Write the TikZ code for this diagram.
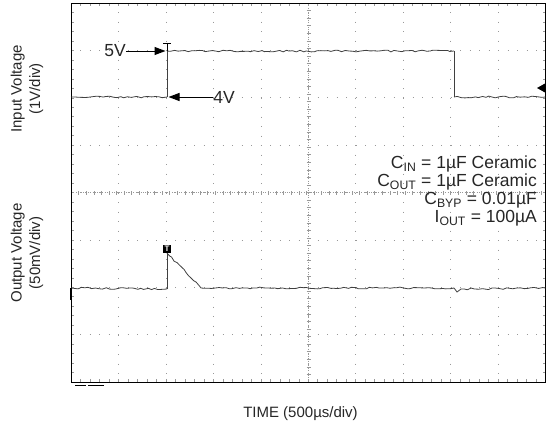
\documentclass[tikz,border=0pt]{standalone}
\usepackage{fontspec}
\setmainfont{Liberation Sans}
\usetikzlibrary{positioning, arrows.meta, decorations.pathmorphing}

\begin{document}
\begin{tikzpicture}[x=1pt, y=-1pt, node distance=4pt,
    font=\fontsize{15}{18.5}\selectfont,
    grid/.style={black!40, line width=0.6pt, dash pattern=on 1pt off 8.5pt, dash phase=0.5pt},
    tick/.style={black!40, line width=0.5pt},
    trace/.style={black!75, line width=0.8pt},
    noisy/.style={decorate, decoration={random steps, segment length=3.5pt, amplitude=0.9pt}},
    lbl/.style={text=black!85, inner sep=0pt},
    big/.style={lbl, font=\fontsize{17.5}{18}\selectfont},
    tip/.style={-{Triangle[length=11pt, width=8pt]}, line width=1pt}]
    \useasboundingbox (0,0) rectangle (547,431);
    \pgfmathsetseed{11}

    % grid
    \foreach \i in {1,...,9}
        \draw[grid] (71+47.45*\i,3) -- ++(0,379);
    \foreach \j in {1,...,7}
        \draw[grid] (71,3+47.375*\j) -- ++(474.5,0);
    \foreach \k in {0,...,50} {
        \draw[tick] (71+9.49*\k,3) -- ++(0,3);
        \draw[tick] (71+9.49*\k,382) -- ++(0,-3);
        \draw[tick] (306.5,3+9.475*\k/1.25) -- ++(4,0);
    }
    \foreach \k in {0,...,40} {
        \draw[tick] (71,3+9.475*\k) -- ++(3,0);
        \draw[tick] (545.5,3+9.475*\k) -- ++(-3,0);
    }
    \foreach \k in {0,...,62}
        \draw[tick] (71+9.49*\k/1.25,191) -- ++(0,4);
    \draw[black!40, dotted] (308.25,3) -- (308.25,382);
    \draw[black!40, dotted] (71,192.5) -- (545.5,192.5);
    \draw[line width=1pt] (71,3) rectangle (545.5,382);
    \draw[line width=1pt] (75,385) -- (86,385) (88,385) -- (104,385);

    % input trace
    \coordinate (inLo) at (167,97);
    \coordinate (inHi) at (167,51);
    \draw[trace, noisy] (71,97) -- (inLo);
    \draw[trace] (inLo) -- (inHi);
    \draw[trace, noisy] (inHi) -- (454,51);
    \draw[trace] (454,51) -- (454,97);
    \draw[trace, noisy] (454,97) -- (545.5,97);
    \draw[line width=0.8pt] (163,43) -- (171,43) (167,43) -- (inHi);
    \fill (537,88) -- (545,83.5) -- (545,92.5) -- cycle;

    % output trace
    \coordinate (outLo) at (167,289);
    \coordinate (outHi) at (167,253);
    \coordinate (settle) at (201,288);
    \draw[trace, noisy] (71,288) -- (outLo);
    \draw[trace] (outLo) -- (outHi);
    \draw[trace, noisy] (outHi) -- (settle);
    \draw[trace, noisy] (settle) -- (454,288);
    \draw[trace] (454,288) -- (457,292) -- (461,289);
    \draw[trace, noisy] (461,289) -- (545.5,288);
    \draw[line width=2pt] (71,288) -- (71,300);
    \node[fill=black, text=white, inner sep=1.2pt, font=\bfseries\fontsize{8}{8}\selectfont]
        (trig) at (167,249) {T};

    % labels
    \node[big] (v5) at (115,51) {5V};
    \node[big] (v4) at (224,97) {4V};
    \draw[tip] (v5) -- ([xshift=-1.5pt]inHi);
    \draw[tip] (v4) -- ([xshift=1.5pt]inLo);

    \node[lbl, rotate=90, align=center] (inAxis) at (27,89) {Input Voltage\\(1V/div)};
    \node[lbl, rotate=90, align=center] (outAxis) at (27,253) {Output Voltage\\(50mV/div)};
    \node[lbl] (time) at (300.5,414) {TIME (500µs/div)};

    \node[big, align=right, anchor=north east] (caps) at (537,156)
        {C\textsubscript{IN} = 1µF Ceramic\\
         C\textsubscript{OUT} = 1µF Ceramic\\
         C\textsubscript{BYP} = 0.01µF\\
         I\textsubscript{OUT} = 100µA};
\end{tikzpicture}
\end{document}
